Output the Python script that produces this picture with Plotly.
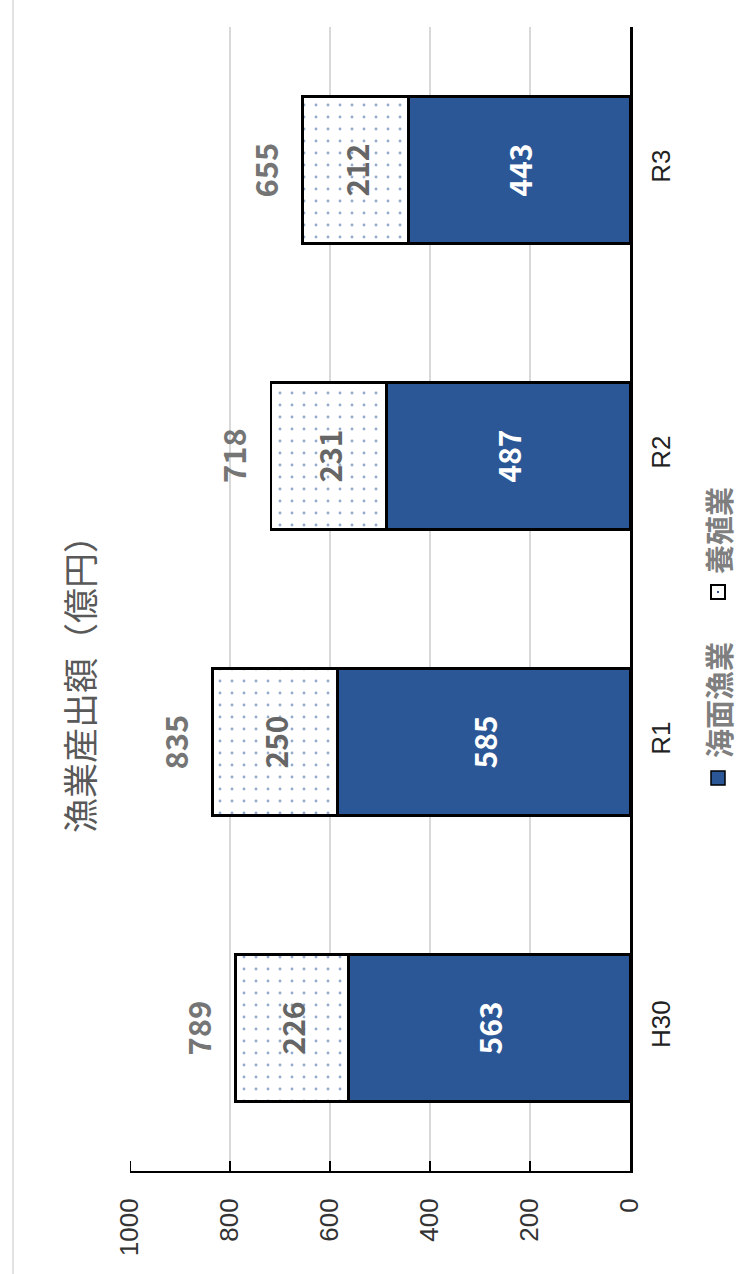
import plotly.graph_objects as go

categories = ["H30", "R1", "R2", "R3"]
kaimen = [563, 585, 487, 443]
yoshoku = [226, 250, 231, 212]
totals = [789, 835, 718, 655]
x_ticks = [0, 200, 400, 600, 800, 1000]

W, H = 755, 1274
L, R, T, B = 130, 125, 27, 103
pw = W - L - R
ph = H - T - B


def px(x):
    return (x - L) / pw


def py(y):
    return (H - B - y) / ph


BLUE = "#2B5797"
CJK = "Noto Sans CJK JP"

fig = go.Figure()
fig.add_trace(go.Bar(
    y=categories, x=kaimen, orientation="h", name="海面漁業",
    marker=dict(color=BLUE, line=dict(color="black", width=2.5)),
    text=kaimen, textposition="inside", insidetextanchor="middle", textangle=-90,
    textfont=dict(family=CJK, size=30, color="white", weight="bold"),
    width=0.515, showlegend=False,
))
fig.add_trace(go.Bar(
    y=categories, x=yoshoku, orientation="h", name="養殖業",
    marker=dict(color="white", line=dict(color="black", width=2.5),
                pattern=dict(shape=".", fgcolor=BLUE, bgcolor="white", size=12,
                             solidity=0.045, fillmode="overlay")),
    text=yoshoku, textposition="inside", insidetextanchor="middle", textangle=-90,
    textfont=dict(family=CJK, size=30, color="#666666", weight="bold"),
    width=0.515, showlegend=False,
))

annotations = []
for c, t in zip(categories, totals):
    annotations.append(dict(
        x=t, y=c, xref="x", yref="y", text=str(t), showarrow=False,
        xshift=-39, textangle=-90, xanchor="center", yanchor="middle",
        font=dict(family=CJK, size=31, color="#757575", weight="bold"),
    ))

annotations.append(dict(
    x=px(78), y=py(676), xref="paper", yref="paper", text="漁業産出額（億円）",
    showarrow=False, textangle=-90, xanchor="center", yanchor="middle",
    font=dict(family=CJK, size=35, color="#595959"),
))
annotations.append(dict(
    x=px(718), y=py(700), xref="paper", yref="paper", text="海面漁業",
    showarrow=False, textangle=-90, xanchor="center", yanchor="middle",
    font=dict(family=CJK, size=29, color="#7f7f7f", weight="bold"),
))
annotations.append(dict(
    x=px(718), y=py(531), xref="paper", yref="paper", text="養殖業",
    showarrow=False, textangle=-90, xanchor="center", yanchor="middle",
    font=dict(family=CJK, size=29, color="#7f7f7f", weight="bold"),
))

shapes = [
    dict(type="line", xref="paper", yref="paper", x0=px(13), x1=px(13),
         y0=py(0), y1=py(1274), line=dict(color="#d9d9d9", width=1.5)),
    dict(type="rect", xref="paper", yref="paper", x0=px(711), x1=px(725),
         y0=py(785), y1=py(771), fillcolor=BLUE, line=dict(color="black", width=1.5)),
    dict(type="rect", xref="paper", yref="paper", x0=px(711), x1=px(725),
         y0=py(599), y1=py(585), fillcolor="white", line=dict(color="black", width=2)),
    dict(type="rect", xref="paper", yref="paper", x0=px(717), x1=px(719),
         y0=py(593), y1=py(591), fillcolor=BLUE, line=dict(width=0)),
]
# tick marks pointing into the plot from the value axis line
for v in x_ticks[1:]:
    shapes.append(dict(type="line", xref="x", yref="paper", x0=v, x1=v,
                       y0=0, y1=10 / ph, line=dict(color="black", width=2),
                       layer="above"))

fig.update_layout(
    width=W, height=H,
    margin=dict(l=L, r=R, t=T, b=B),
    barmode="stack",
    paper_bgcolor="white", plot_bgcolor="white",
    annotations=annotations, shapes=shapes,
    xaxis=dict(
        range=[1000, 0], tickvals=x_ticks, ticktext=[str(v) for v in x_ticks],
        ticks="inside", ticklen=10, tickwidth=2, tickcolor="black",
        showline=True, linecolor="black", linewidth=2,
        showgrid=True, gridcolor="#d9d9d9", gridwidth=1.5, zeroline=False,
        tickangle=-90, ticklabelstandoff=15,
        tickfont=dict(family="Liberation Sans", size=26, color="#333333"),
    ),
    yaxis=dict(
        side="right", tickangle=-90, showline=True, linecolor="black", linewidth=2.5,
        ticks="", showgrid=False, zeroline=False,
        categoryorder="array", categoryarray=categories,
        ticklabelstandoff=6,
        tickfont=dict(family="Liberation Sans", size=26, color="#222222"),
    ),
)

fig.write_html("out.html")
